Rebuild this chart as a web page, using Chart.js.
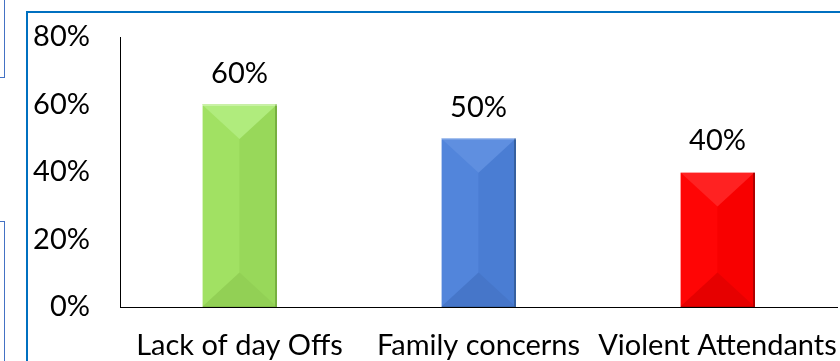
<!DOCTYPE html>
<html>
<head>
<meta charset="utf-8">
<script src="https://cdn.jsdelivr.net/npm/chart.js@4"></script>
<style>
  html, body { margin: 0; padding: 0; background: #fff; }
  #wrap { position: relative; width: 840px; height: 361px; overflow: hidden; }
  #frame { position: absolute; left: 26px; top: 11px; width: 900px; height: 400px; border: 2px solid #0070C0; box-sizing: border-box; }
  #box1 { position: absolute; left: -100px; top: -10px; width: 105px; height: 88px; border: 1px solid #4472C4; box-sizing: border-box; }
  #box2 { position: absolute; left: -100px; top: 221px; width: 105px; height: 300px; border: 1px solid #4472C4; box-sizing: border-box; }
  canvas { position: absolute; left: 0; top: 0; }
</style>
</head>
<body>
<div id="wrap">
  <div id="box1"></div>
  <div id="box2"></div>
  <div id="frame"></div>
  <canvas id="c" width="840" height="361"></canvas>
</div>
<script>
const categories = ["Lack of day Offs", "Family concerns", "Violent Attendants"];
const values = [60, 50, 40];
const tickValues = [0, 20, 40, 60, 80];

const barColors = ["#9CDD5E", "#4F81D6", "#FF0000"];
const bevel = [
  { top: "#B0EC7D", left: "#A1E163", right: "#98D85A", bottom: "#92D055", edge: "#77B040" },
  { top: "#5F8FE0", left: "#5285DB", right: "#4A7DD3", bottom: "#4676C9", edge: "#36609F" },
  { top: "#FF2222", left: "#FF0505", right: "#F80000", bottom: "#E60000", edge: "#B00000" }
];

const FONT = "Lato, Carlito, Calibri, sans-serif";

const bevelPlugin = {
  id: "bevel",
  afterDatasetsDraw(chart) {
    const ctx = chart.ctx;
    const meta = chart.getDatasetMeta(0);
    meta.data.forEach((bar, i) => {
      const p = bevel[i];
      const w = bar.width, l = bar.x - w / 2, r = bar.x + w / 2, t = bar.y, b = bar.base;
      const d = Math.min(w * 0.46, (b - t) / 2);
      ctx.save();
      ctx.fillStyle = p.left; ctx.fillRect(l, t, w / 2, b - t);
      ctx.fillStyle = p.right; ctx.fillRect(bar.x, t, w / 2, b - t);
      ctx.beginPath(); ctx.moveTo(l, t); ctx.lineTo(r, t); ctx.lineTo(bar.x, t + d); ctx.closePath();
      ctx.fillStyle = p.top; ctx.fill();
      ctx.beginPath(); ctx.moveTo(l, b); ctx.lineTo(r, b); ctx.lineTo(bar.x, b - d); ctx.closePath();
      ctx.fillStyle = p.bottom; ctx.fill();
      ctx.fillStyle = p.edge; ctx.fillRect(r - 2, t, 2, b - t);
      ctx.globalAlpha = 0.5; ctx.fillRect(l, b - 1, w, 1);
      ctx.globalAlpha = 0.6; ctx.fillStyle = "#ffffff"; ctx.fillRect(l, t, w, 1); ctx.fillRect(l, t, 1, b - t);
      ctx.restore();
    });
  },
  afterDraw(chart) {
    const ctx = chart.ctx;
    const meta = chart.getDatasetMeta(0);
    ctx.save();
    ctx.font = "29px " + FONT;
    ctx.fillStyle = "#000";
    ctx.textAlign = "center";
    ctx.textBaseline = "middle";
    meta.data.forEach((bar, i) => {
      ctx.fillText(values[i] + "%", bar.x, bar.y - 31);
    });
    ctx.restore();
  }
};

new Chart(document.getElementById("c"), {
  type: "bar",
  data: {
    labels: categories,
    datasets: [{
      data: values,
      backgroundColor: barColors,
      borderWidth: 0,
      barPercentage: 0.6276,
      categoryPercentage: 0.5
    }]
  },
  options: {
    responsive: false,
    animation: false,
    layout: { padding: { top: 37, right: 3, left: 0, bottom: 0 } },
    plugins: { legend: { display: false }, tooltip: { enabled: false } },
    scales: {
      x: {
        grid: { display: false, drawTicks: false },
        border: { display: true, color: "#000", width: 1 },
        ticks: { color: "#000", font: { family: FONT, size: 29 }, padding: 21, maxRotation: 0, autoSkip: false },
        afterFit(s) { s.height = 54; s.paddingLeft = 0; s.paddingRight = 0; }
      },
      y: {
        min: 0, max: 80,
        afterBuildTicks(s) { s.ticks = tickValues.map(v => ({ value: v })); },
        grid: { display: false, drawTicks: false },
        border: { display: true, color: "#000", width: 1 },
        ticks: { color: "#000", font: { family: FONT, size: 29 }, padding: 30, callback: v => v + "%" },
        afterFit(s) { s.width = 120; s.paddingTop = 0; s.paddingBottom = 0; }
      }
    }
  },
  plugins: [bevelPlugin]
});
</script>
</body>
</html>
